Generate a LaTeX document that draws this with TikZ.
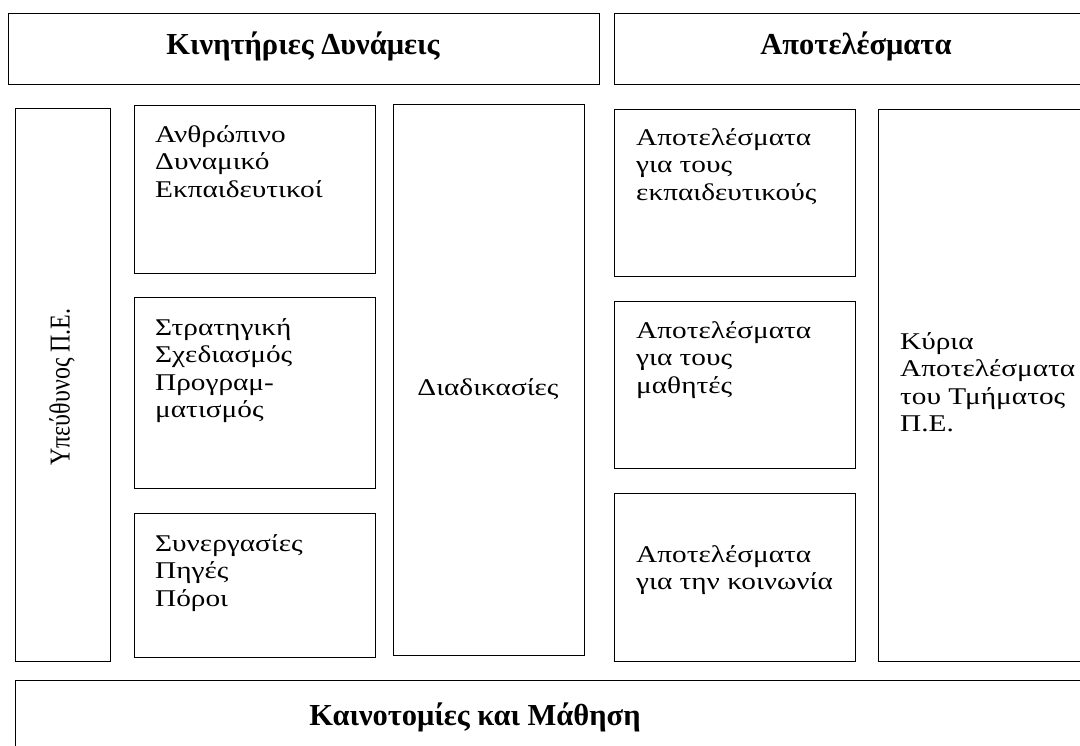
\documentclass[tikz,border=0pt]{standalone}
\usepackage{fontspec}
\setmainfont{Liberation Serif}
\newfontfamily\bodyfont[FakeStretch=1.22]{Liberation Serif}
\begin{document}
\begin{tikzpicture}[x=1pt,y=-1pt,
  box/.style={draw=black, line width=1.4pt, rectangle, inner sep=0pt, anchor=north west},
  txt/.style={inner sep=0pt, anchor=north west, align=left, font=\bodyfont\fontsize{24}{27.5}\selectfont},
  head/.style={inner sep=0pt, font=\fontsize{30.5}{33}\selectfont\bfseries}]
\useasboundingbox (0,0) rectangle (1080,746);
\clip (0,0) rectangle (1080,746);
% boxes
\node[box, minimum width=591pt, minimum height=71pt] (top1) at (8,13) {};
\node[box, minimum width=500pt, minimum height=71pt] (top2) at (614,13) {};
\node[box, minimum width=95pt, minimum height=553pt] (left) at (15,108) {};
\node[box, minimum width=241pt, minimum height=168pt] (c1) at (134,105) {};
\node[box, minimum width=241pt, minimum height=191pt] (c2) at (134,297) {};
\node[box, minimum width=241pt, minimum height=144pt] (c3) at (134,513) {};
\node[box, minimum width=191pt, minimum height=551pt] (proc) at (393,104) {};
\node[box, minimum width=241pt, minimum height=167pt] (r1) at (614,109) {};
\node[box, minimum width=241pt, minimum height=167pt] (r2) at (614,301) {};
\node[box, minimum width=241pt, minimum height=168pt] (r3) at (614,493) {};
\node[box, minimum width=250pt, minimum height=552pt] (main) at (878,109) {};
\node[box, minimum width=1100pt, minimum height=100pt] (bottom) at (15,680) {};
% texts
\node[head] (t1) at (303,46) {Κινητήριες Δυνάμεις};
\node[head] (t2) at (856,46) {Αποτελέσματα};
\node[inner sep=0pt, rotate=90, font=\fontsize{24}{27.5}\selectfont] (tleft) at (62,387) {\scalebox{1}[1.2]{Υπεύθυνος Π.Ε.}};
\node[txt] (tc1) at (155,125) {Ανθρώπινο\\Δυναμικό\\Εκπαιδευτικοί};
\node[txt] (tc2) at (155,318) {Στρατηγική\\Σχεδιασμός\\Προγραμ-\\ματισμός};
\node[txt] (tc3) at (155,534) {Συνεργασίες\\Πηγές\\Πόροι};
\node[inner sep=0pt, font=\bodyfont\fontsize{24}{27.5}\selectfont] (tproc) at (488,389) {Διαδικασίες};
\node[txt] (tr1) at (636,128) {Αποτελέσματα\\για τους\\εκπαιδευτικούς};
\node[txt] (tr2) at (636,321) {Αποτελέσματα\\για τους\\μαθητές};
\node[txt] (tr3) at (636,545) {Αποτελέσματα\\για την κοινωνία};
\node[txt] (tmain) at (900,332) {Κύρια\\Αποτελέσματα\\του Τμήματος\\Π.Ε.};
\node[head] (tb) at (475,717) {Καινοτομίες και Μάθηση};
\end{tikzpicture}
\end{document}
